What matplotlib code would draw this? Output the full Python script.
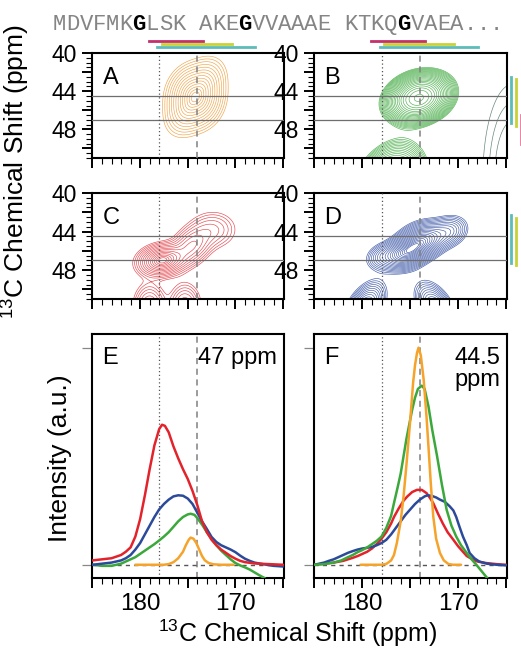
import numpy as np
import matplotlib
matplotlib.use("Agg")
import matplotlib.pyplot as plt
from matplotlib.ticker import MultipleLocator, FuncFormatter
from matplotlib.transforms import blended_transform_factory

plt.rcParams['font.family'] = ['Liberation Sans', 'DejaVu Sans']
plt.rcParams['mathtext.fontset'] = 'custom'
plt.rcParams['mathtext.rm'] = 'Liberation Sans'

# ---------------- data ----------------
sequence = "MDVFMKGLSK AKEGVVAAAE KTKQGVAEA..."

# 2D peak models: (x ppm, y ppm, sigma x, sigma y, correlation, amplitude)
peaks_A = [(174.2, 44.6, 1.45, 1.75, 0.25, 1.0)]
peaks_B = [(174.1, 44.7, 1.7, 1.3, 0.2, 1.0),
           (177.3, 54.5, 1.8, 2.3, 0.3, 0.9)]
peaks_B_side = [(164.3, 53.0, 1.6, 5.0, 0.0, 1.0)]
peaks_C = [(177.7, 47.0, 1.3, 0.85, 0.15, 1.0),
           (174.6, 45.5, 1.2, 1.15, 0.3, 0.45),
           (172.3, 43.8, 1.4, 1.1, 0.0, 0.22),
           (179.0, 51.8, 0.9, 1.3, 0.0, 0.42),
           (175.3, 51.8, 0.9, 1.3, 0.0, 0.38)]
peaks_D = [(173.8, 45.0, 1.3, 1.0, 0.25, 1.0),
           (175.6, 46.3, 1.2, 0.9, 0.25, 0.95),
           (177.9, 46.6, 1.0, 0.8, 0.2, 0.25),
           (171.0, 44.0, 1.1, 0.9, 0.2, 0.35),
           (179.8, 52.0, 1.1, 1.4, 0.5, 0.7),
           (172.3, 52.0, 1.1, 1.4, -0.5, 0.6)]
shape_exp = {'A': 2.5, 'B': 2.0, 'C': 2.0, 'D': 2.0}

# 1D slices (ppm, normalized intensity)
E_red_x = [185, 184, 183, 182, 181.5, 181, 180.5, 180, 179.5, 179, 178.5, 178, 177.7, 177.4, 177,
           176.5, 176, 175.5, 175, 174.5, 174, 173.5, 173, 172.5, 172, 171.5, 171, 170.5, 170,
           169.5, 169, 168, 167, 166, 165]
E_red_y = [0.02, 0.025, 0.03, 0.045, 0.06, 0.08, 0.13, 0.21, 0.32, 0.44, 0.55, 0.625, 0.645, 0.64, 0.61,
           0.545, 0.49, 0.44, 0.395, 0.34, 0.275, 0.2, 0.15, 0.115, 0.09, 0.07, 0.055, 0.04, 0.028,
           0.018, 0.012, 0.006, 0.004, 0.002, 0.0]
E_blue_x = [185, 184, 183, 182, 181.5, 181, 180.5, 180, 179.5, 179, 178.5, 178, 177.5, 177, 176.5,
            176, 175.5, 175, 174.5, 174, 173.5, 173, 172.5, 172, 171.5, 171, 170.5, 170, 169.5,
            169, 168.5, 168, 167, 166, 165]
E_blue_y = [0.0, 0.005, 0.01, 0.02, 0.03, 0.045, 0.07, 0.10, 0.14, 0.18, 0.22, 0.255, 0.28, 0.30, 0.315,
            0.32, 0.318, 0.305, 0.28, 0.24, 0.2, 0.165, 0.128, 0.105, 0.09, 0.08, 0.07, 0.058, 0.042,
            0.028, 0.018, 0.01, 0.002, -0.005, -0.008]
E_green_x = [185, 184, 183, 182, 181.5, 181, 180.5, 180, 179.5, 179, 178.5, 178, 177.5, 177, 176.5,
             176, 175.5, 175, 174.7, 174.3, 174, 173.5, 173, 172.5, 172, 171.5, 171, 170.5, 170,
             169.5, 169, 168.5, 168, 167.5, 167, 166.5]
E_green_y = [0.0, -0.005, -0.005, 0.005, 0.015, 0.025, 0.035, 0.05, 0.065, 0.08, 0.095, 0.112, 0.13, 0.15, 0.175,
             0.20, 0.22, 0.232, 0.235, 0.23, 0.215, 0.185, 0.15, 0.12, 0.09, 0.065, 0.045, 0.025, 0.008,
             -0.003, -0.012, -0.022, -0.035, -0.048, -0.06, -0.075]
E_orange_x = [180.5, 177.5, 177, 176.5, 176, 175.5, 175.2, 174.9, 174.7, 174.4, 174.1, 173.8, 173.5,
              173.2, 172.8, 172.3, 171.5, 170.2]
E_orange_y = [0.0, 0.0, 0.003, 0.012, 0.03, 0.06, 0.09, 0.115, 0.125, 0.12, 0.1, 0.07, 0.04,
              0.02, 0.008, 0.002, 0.0, 0.0]

F_red_x = [185, 184, 183, 182, 181.5, 181, 180.5, 180, 179.5, 179, 178.5, 178, 177.5, 177, 176.7,
           176.2, 175.7, 175.3, 174.8, 174.3, 173.8, 173.3, 172.9, 172.6, 172.1, 171.6, 171.1, 170.5,
           170, 169.5, 169.1, 168.5, 168, 167.1, 166, 165]
F_red_y = [0.0, 0.005, 0.01, 0.018, 0.025, 0.032, 0.04, 0.05, 0.06, 0.075, 0.095, 0.12, 0.15, 0.19, 0.22,
           0.26, 0.295, 0.315, 0.335, 0.345, 0.345, 0.33, 0.305, 0.284, 0.235, 0.19, 0.15, 0.115,
           0.085, 0.06, 0.04, 0.025, 0.015, 0.008, 0.003, 0.0]
F_blue_x = [185, 184, 183.5, 183, 182.5, 182, 181.5, 181, 180.5, 180, 179.5, 179, 178.5, 178, 177.5,
            177, 176.5, 176, 175.5, 175, 174.5, 174, 173.5, 173.2, 172.8, 172.3, 171.9, 171.4, 170.9,
            170.5, 170.2, 169.9, 169.5, 169.1, 168.8, 168.3, 167.8, 167, 166, 165]
F_blue_y = [0.0, 0.01, 0.018, 0.025, 0.035, 0.045, 0.055, 0.063, 0.07, 0.075, 0.078, 0.082, 0.09, 0.10, 0.115,
            0.14, 0.17, 0.2, 0.23, 0.255, 0.28, 0.3, 0.315, 0.32, 0.318, 0.31, 0.30, 0.29, 0.27,
            0.25, 0.22, 0.18, 0.13, 0.09, 0.054, 0.03, 0.015, 0.005, 0.0, -0.003]
F_green_x = [185, 184, 183, 182.2, 181.5, 181, 180.5, 180, 179.5, 179, 178.5, 178, 177.5, 177, 176.7,
             176.3, 176, 175.7, 175.4, 175, 174.8, 174.5, 174.2, 173.8, 173.5, 173.1, 172.7, 172.2,
             171.7, 171.2, 170.7, 170.2, 169.7, 169.1, 168.6, 168.1, 167.6, 167.1, 166.8]
F_green_y = [0.0, 0.003, 0.01, 0.02, 0.035, 0.045, 0.058, 0.068, 0.08, 0.095, 0.11, 0.13, 0.17, 0.225, 0.284,
             0.36, 0.42, 0.5, 0.58, 0.67, 0.714, 0.77, 0.81, 0.825, 0.81, 0.73, 0.62, 0.5,
             0.37, 0.253, 0.18, 0.13, 0.09, 0.054, 0.025, 0.0, -0.027, -0.054, -0.07]
F_orange_x = [180.2, 178, 177.5, 177, 176.7, 176.4, 176, 175.7, 175.4, 175, 174.7, 174.5, 174.3, 174.14,
              173.9, 173.6, 173.3, 173.1, 172.85, 172.6, 172.3, 171.9, 171.5, 171, 170.5, 169.7]
F_orange_y = [0.0, 0.0, 0.004, 0.02, 0.045, 0.1, 0.2, 0.315, 0.46, 0.668, 0.84, 0.92, 0.975, 1.0,
              0.965, 0.853, 0.68, 0.545, 0.37, 0.223, 0.12, 0.054, 0.02, 0.003, 0.0, 0.0]

slice_E_label = "47 ppm"
slice_F_label = "44.5\nppm"
ref_dotted_x = 178
ref_dashed_x = 174
ref_h = [44.5, 47]

# ---------------- style ----------------
C_RED, C_BLUE, C_GREEN, C_ORANGE = "#e3232b", "#2c4a9a", "#3ba83b", "#f5a32a"
CC_ORANGE, CC_GREEN, CC_RED, CC_BLUE = "#f0a448", "#4fb04f", "#e5484f", "#405aa8"
PINK, YELLOW, TEAL = "#c3306b", "#c9d335", "#5cbcb8"

W, H = 521, 652
fig = plt.figure(figsize=(W / 100, H / 100), dpi=100)


def add_ax(l, r, t, b):
    return fig.add_axes([l / W, 1 - b / H, (r - l) / W, (b - t) / H])


xg = np.linspace(158, 192, 341)
yg = np.linspace(34, 62, 281)
XG, YG = np.meshgrid(xg, yg)


def field(peaks, p=2.0):
    Z = np.zeros_like(XG)
    for cx, cy, sx, sy, rho, amp in peaks:
        u = (XG - cx) / sx
        dy = (YG - cy) / sy
        v = (dy - rho * u) / np.sqrt(1 - rho ** 2)
        q = (np.abs(u) ** p + np.abs(v) ** p) ** (2.0 / p)
        Z += amp * np.exp(-0.5 * q)
    return Z


def style_common(ax):
    for s in ax.spines.values():
        s.set_linewidth(1.5)
    ax.set_xlim(185.05, 164.9)
    ax.xaxis.set_major_locator(MultipleLocator(5))
    ax.xaxis.set_minor_locator(MultipleLocator(1))
    ax.tick_params(which='major', direction='out', length=7, width=1.4, labelsize=17, pad=3)
    ax.tick_params(which='minor', direction='out', length=4.5, width=0.8)


def style_2d(ax):
    style_common(ax)
    ax.set_ylim(51, 40)
    ax.yaxis.set_major_locator(MultipleLocator(2))
    ax.yaxis.set_minor_locator(MultipleLocator(0.5))
    ax.yaxis.set_major_formatter(FuncFormatter(lambda v, p: f"{v:.0f}" if round(v) % 4 == 0 else ""))
    ax.tick_params(axis='x', labelbottom=False)
    ax.tick_params(axis='y', labelsize=16.5, pad=4)
    for yv in ref_h:
        ax.axhline(yv, color="#6e6e6e", lw=0.9, zorder=3)
    ax.axvline(ref_dotted_x, color="#555555", lw=0.9, ls=(0, (1, 2)), zorder=3)
    ax.axvline(ref_dashed_x, color="#808080", lw=1.1, ls=(0, (4, 3)), zorder=3)


def contour(ax, Z, color, lo, hi, n, mode='r', lw=0.45):
    zmax = Z.max()
    if mode == 'r':
        r = np.linspace(np.sqrt(-2 * np.log(lo)), np.sqrt(-2 * np.log(hi)), n)
        levels = np.exp(-0.5 * r ** 2) * zmax
    else:
        levels = np.geomspace(lo, hi, n) * zmax
    ax.contour(XG, YG, Z, levels=levels, colors=color, linewidths=lw, zorder=2)


axA = add_ax(92, 284, 53, 158)
axB = add_ax(314, 507, 53, 158)
axC = add_ax(92, 284, 193, 299)
axD = add_ax(314, 507, 193, 299)
axE = add_ax(92, 284, 334, 578)
axF = add_ax(314, 507, 334, 578)

for ax in (axA, axB, axC, axD):
    style_2d(ax)

contour(axA, field(peaks_A, shape_exp['A']), CC_ORANGE, 0.06, 0.96, 14, mode='r')
contour(axB, field(peaks_B, shape_exp['B']), CC_GREEN, 0.05, 0.96, 22, mode='g')
axB.contour(XG, YG, field(peaks_B_side), levels=[0.15, 0.3, 0.5], colors="#6a8a7c",
            linewidths=0.5, zorder=2)
contour(axC, field(peaks_C, shape_exp['C']), CC_RED, 0.06, 0.95, 14, mode='r')
contour(axD, field(peaks_D, shape_exp['D']), CC_BLUE, 0.05, 0.96, 20, mode='r')

for ax, lab in zip((axA, axB, axC, axD), "ABCD"):
    ax.text(0.055, 0.87, lab, transform=ax.transAxes, fontsize=17, va='top', ha='left', zorder=5)

# 1D panels
for ax, lab, slab, curves in (
        (axE, "E", slice_E_label,
         [(E_orange_x, E_orange_y, C_ORANGE), (E_green_x, E_green_y, C_GREEN),
          (E_blue_x, E_blue_y, C_BLUE), (E_red_x, E_red_y, C_RED)]),
        (axF, "F", slice_F_label,
         [(F_red_x, F_red_y, C_RED), (F_blue_x, F_blue_y, C_BLUE),
          (F_green_x, F_green_y, C_GREEN), (F_orange_x, F_orange_y, C_ORANGE)])):
    style_common(ax)
    ax.set_ylim(-0.061, 1.063)
    ax.set_yticks([0, 1])
    ax.set_yticklabels([])
    ax.tick_params(axis='y', which='major', color="#888888", length=7, width=0.9)
    ax.xaxis.set_major_formatter(FuncFormatter(lambda v, p: f"{v:.0f}" if round(v) % 10 == 0 else ""))
    ax.tick_params(axis='x', labelsize=17.5, pad=4)
    ax.axvline(ref_dotted_x, color="#555555", lw=0.9, ls=(0, (1, 2)), zorder=1)
    ax.axvline(ref_dashed_x, color="#808080", lw=1.1, ls=(0, (4, 3)), zorder=1)
    ax.axhline(0, color="#555555", lw=1.0, ls=(0, (3, 3)), zorder=1)
    for xs, ys, c in curves:
        ax.plot(xs, ys, color=c, lw=1.8, zorder=3, solid_capstyle='round', solid_joinstyle='round')
    ax.text(0.055, 0.945, lab, transform=ax.transAxes, fontsize=17, va='top', ha='left')
    ax.text(0.965, 0.945, slab, transform=ax.transAxes, fontsize=17, va='top', ha='right',
            multialignment='right', linespacing=0.95)

# coloured bars above A and B
for ax in (axA, axB):
    tr = blended_transform_factory(ax.transData, ax.transAxes)
    ax.plot([179.05, 173.45], [1.117, 1.117], color=PINK, lw=2, transform=tr, clip_on=False)
    ax.plot([177.7, 170.4], [1.089, 1.089], color=YELLOW, lw=2, transform=tr, clip_on=False)
    ax.plot([178.2, 167.9], [1.054, 1.054], color=TEAL, lw=2, transform=tr, clip_on=False)

# coloured bars right of B and D
trB = blended_transform_factory(axB.transAxes, axB.transData)
axB.plot([1.021, 1.021], [42.5, 47.35], color=TEAL, lw=2, transform=trB, clip_on=False)
axB.plot([1.047, 1.047], [42.7, 47.6], color=YELLOW, lw=2, transform=trB, clip_on=False)
axB.plot([1.07, 1.07], [46.5, 49.5], color="#e8789c", lw=2, transform=trB, clip_on=False)
trD = blended_transform_factory(axD.transAxes, axD.transData)
axD.plot([1.021, 1.021], [42.3, 47.3], color=TEAL, lw=2, transform=trD, clip_on=False)
axD.plot([1.047, 1.047], [42.6, 47.5], color=YELLOW, lw=2, transform=trD, clip_on=False)

# sequence
x0, step = 53, 13.24
for i, ch in enumerate(sequence):
    if ch == " ":
        continue
    bold = ch == "G"
    fig.text((x0 + (i + 0.5) * step) / W, 1 - 30 / H, ch, ha='center', va='baseline',
             family=['Liberation Mono', 'DejaVu Sans Mono'], fontsize=16,
             fontweight='bold' if bold else 'normal', color='black' if bold else '#858585')

# axis labels
fig.text(15 / W, 1 - 172 / H, r"$^{13}$C Chemical Shift (ppm)", rotation=90, ha='center', va='center',
         fontsize=19)
fig.text(60 / W, 1 - 458 / H, "Intensity (a.u.)", rotation=90, ha='center', va='center', fontsize=19)
fig.text(298 / W, 1 - 633 / H, r"$^{13}$C Chemical Shift (ppm)", ha='center', va='center', fontsize=18)

fig.savefig("out.png", dpi=100)
